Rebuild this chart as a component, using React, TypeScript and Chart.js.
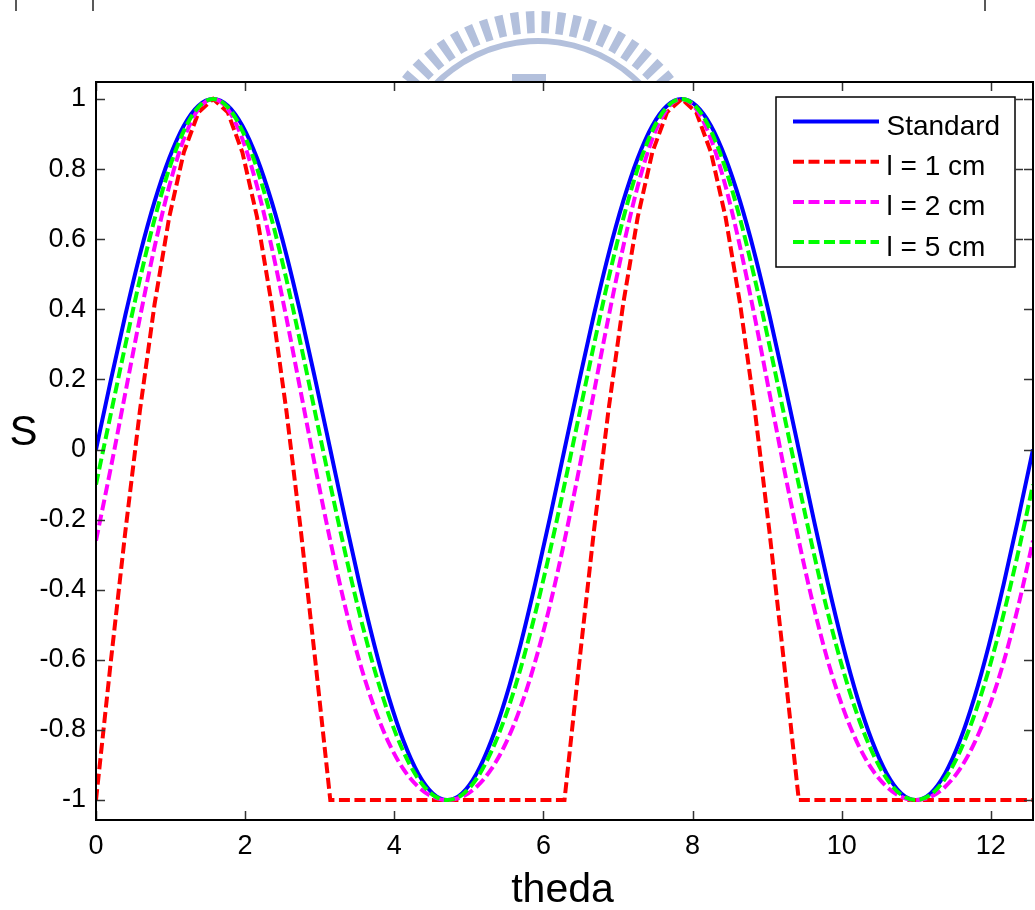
import React, { useEffect, useRef } from 'react';
import { Chart, registerables } from 'chart.js';

Chart.register(...registerables);

// theta samples (rad), step pi/16 from 0 to 4*pi
const theta = [
  0, 0.196, 0.393, 0.589, 0.785, 0.982, 1.178, 1.374, 1.571, 1.767, 1.963, 2.16, 2.356, 2.553, 2.749, 2.945,
  3.142, 3.338, 3.534, 3.731, 3.927, 4.123, 4.32, 4.516, 4.712, 4.909, 5.105, 5.301, 5.498, 5.694, 5.89, 6.087,
  6.283, 6.48, 6.676, 6.872, 7.069, 7.265, 7.461, 7.658, 7.854, 8.05, 8.247, 8.443, 8.639, 8.836, 9.032, 9.228,
  9.425, 9.621, 9.817, 10.014, 10.21, 10.407, 10.603, 10.799, 10.996, 11.192, 11.388, 11.585, 11.781, 11.977, 12.174, 12.37,
  12.566,
];

const standard = [
  0, 0.195, 0.383, 0.556, 0.707, 0.831, 0.924, 0.981, 1, 0.981, 0.924, 0.831, 0.707, 0.556, 0.383, 0.195,
  0, -0.195, -0.383, -0.556, -0.707, -0.831, -0.924, -0.981, -1, -0.981, -0.924, -0.831, -0.707, -0.556, -0.383, -0.195,
  0, 0.195, 0.383, 0.556, 0.707, 0.831, 0.924, 0.981, 1, 0.981, 0.924, 0.831, 0.707, 0.556, 0.383, 0.195,
  0, -0.195, -0.383, -0.556, -0.707, -0.831, -0.924, -0.981, -1, -0.981, -0.924, -0.831, -0.707, -0.556, -0.383, -0.195,
  0,
];

const l1cm = [
  -1, -0.61, -0.235, 0.111, 0.414, 0.663, 0.848, 0.962, 1, 0.962, 0.848, 0.663, 0.414, 0.111, -0.235, -0.61,
  -1, -1, -1, -1, -1, -1, -1, -1, -1, -1, -1, -1, -1, -1, -1, -1,
  -1, -0.61, -0.235, 0.111, 0.414, 0.663, 0.848, 0.962, 1, 0.962, 0.848, 0.663, 0.414, 0.111, -0.235, -0.61,
  -1, -1, -1, -1, -1, -1, -1, -1, -1, -1, -1, -1, -1, -1, -1, -1,
  -1,
];

const l2cm = [
  -0.26, -0.055, 0.161, 0.376, 0.577, 0.751, 0.886, 0.971, 1, 0.971, 0.886, 0.751, 0.577, 0.376, 0.161, -0.055,
  -0.26, -0.445, -0.605, -0.735, -0.837, -0.912, -0.962, -0.991, -1, -0.991, -0.962, -0.912, -0.837, -0.735, -0.605, -0.445,
  -0.26, -0.055, 0.161, 0.376, 0.577, 0.751, 0.886, 0.971, 1, 0.971, 0.886, 0.751, 0.577, 0.376, 0.161, -0.055,
  -0.26, -0.445, -0.605, -0.735, -0.837, -0.912, -0.962, -0.991, -1, -0.991, -0.962, -0.912, -0.837, -0.735, -0.605, -0.445,
  -0.26,
];

const l5cm = [
  -0.1, 0.099, 0.297, 0.486, 0.657, 0.801, 0.909, 0.977, 1, 0.977, 0.909, 0.801, 0.657, 0.486, 0.297, 0.099,
  -0.1, -0.291, -0.468, -0.625, -0.757, -0.862, -0.939, -0.985, -1, -0.985, -0.939, -0.862, -0.757, -0.625, -0.468, -0.291,
  -0.1, 0.099, 0.297, 0.486, 0.657, 0.801, 0.909, 0.977, 1, 0.977, 0.909, 0.801, 0.657, 0.486, 0.297, 0.099,
  -0.1, -0.291, -0.468, -0.625, -0.757, -0.862, -0.939, -0.985, -1, -0.985, -0.939, -0.862, -0.757, -0.625, -0.468, -0.291,
  -0.1,
];

const seriesLabels = ['Standard', 'l = 1 cm', 'l = 2 cm', 'l = 5 cm'];
const xTicks = [0, 2, 4, 6, 8, 10, 12];
const xTickLabels = ['0', '2', '4', '6', '8', '10', '12'];
const yTicks = [-1, -0.8, -0.6, -0.4, -0.2, 0, 0.2, 0.4, 0.6, 0.8, 1];
const yTickLabels = ['-1', '-0.8', '-0.6', '-0.4', '-0.2', '0', '0.2', '0.4', '0.6', '0.8', '1'];
const xTitle = 'theda';
const yTitle = 'S';
const xMin = 0;
const xMax = 12.566;
const yMin = -1.057;
const yMax = 1.0485;

const FONT = '"Liberation Sans", Arial, Helvetica, sans-serif';

const decorPlugin = {
  id: 'decor',
  beforeDraw(chart: any) {
    const ctx = chart.ctx;
    const top = chart.chartArea.top;
    ctx.save();
    ctx.fillStyle = '#ffffff';
    ctx.fillRect(0, 0, chart.width, chart.height);
    // faint watermark logo above the axes
    ctx.beginPath();
    ctx.rect(0, 0, chart.width, top - 1);
    ctx.clip();
    ctx.fillStyle = '#b3c0dc';
    const cx = 538, cy = 184;
    const a0 = (-143 * Math.PI) / 180, a1 = (-37 * Math.PI) / 180;
    const n = 20;
    for (let i = 0; i < n; i++) {
      const a = a0 + ((a1 - a0) * (i + 0.5)) / n;
      const hw = ((a1 - a0) / n) * 0.27;
      ctx.beginPath();
      ctx.arc(cx, cy, 173, a - hw, a + hw);
      ctx.arc(cx, cy, 151, a + hw, a - hw, true);
      ctx.closePath();
      ctx.fill();
    }
    ctx.beginPath();
    ctx.arc(cx, cy, 146, a0, a1);
    ctx.arc(cx, cy, 140, a1, a0, true);
    ctx.closePath();
    ctx.fill();
    ctx.fillRect(cx - 26, 74, 34, 8);
    ctx.restore();
    // remnants of the frame above
    ctx.save();
    ctx.strokeStyle = '#222';
    ctx.lineWidth = 1.5;
    [16, 93, 985].forEach((x) => {
      ctx.beginPath();
      ctx.moveTo(x, 0);
      ctx.lineTo(x, 11);
      ctx.stroke();
    });
    ctx.restore();
  },
  afterDraw(chart: any) {
    const ctx = chart.ctx;
    const { left, right, top, bottom } = chart.chartArea;
    const xs = chart.scales.x;
    const ys = chart.scales.y;
    ctx.save();
    // inward ticks on all four sides
    ctx.strokeStyle = '#333';
    ctx.lineWidth = 1.5;
    const tl = 9;
    xTicks.forEach((v) => {
      const px = Math.round(xs.getPixelForValue(v)) + 0.5;
      ctx.beginPath();
      ctx.moveTo(px, bottom);
      ctx.lineTo(px, bottom - tl);
      ctx.moveTo(px, top);
      ctx.lineTo(px, top + tl);
      ctx.stroke();
    });
    yTicks.forEach((v) => {
      const py = Math.round(ys.getPixelForValue(v)) + 0.5;
      ctx.beginPath();
      ctx.moveTo(left, py);
      ctx.lineTo(left + tl, py);
      ctx.moveTo(right, py);
      ctx.lineTo(right - tl, py);
      ctx.stroke();
    });
    // frame
    ctx.strokeStyle = '#000';
    ctx.lineWidth = 2;
    ctx.strokeRect(left, top, right - left, bottom - top);

    // legend
    const bx = 776, by = 97, bw = 239, bh = 170;
    ctx.fillStyle = '#fff';
    ctx.fillRect(bx, by, bw, bh);
    ctx.strokeStyle = '#000';
    ctx.lineWidth = 1.5;
    ctx.strokeRect(bx, by, bw, bh);
    // small marks at the legend's right edge
    ctx.strokeStyle = '#333';
    ctx.lineWidth = 1.5;
    yTicks.forEach((v) => {
      const py = Math.round(ys.getPixelForValue(v)) + 0.5;
      if (py >= by && py <= by + bh) {
        ctx.beginPath();
        ctx.moveTo(bx + bw, py);
        ctx.lineTo(bx + bw + 8, py);
        ctx.stroke();
      }
    });
    ctx.font = `28px ${FONT}`;
    ctx.textAlign = 'left';
    ctx.textBaseline = 'alphabetic';
    chart.data.datasets.forEach((ds: any, i: number) => {
      const ly = 121.5 + i * 40.2;
      ctx.save();
      ctx.strokeStyle = ds.borderColor;
      ctx.lineWidth = ds.borderWidth;
      ctx.setLineDash(ds.borderDash || []);
      ctx.beginPath();
      ctx.moveTo(793, ly);
      ctx.lineTo(879, ly);
      ctx.stroke();
      ctx.restore();
      ctx.fillStyle = '#000';
      ctx.fillText(ds.label, 886.5, ly + 13.5);
    });

    // axis titles
    ctx.fillStyle = '#000';
    ctx.font = `41px ${FONT}`;
    ctx.textAlign = 'center';
    ctx.textBaseline = 'alphabetic';
    ctx.fillText(xTitle, (left + right) / 2 - 2, 902);
    ctx.font = `42px ${FONT}`;
    ctx.fillText(yTitle, 23.5, 445);
    ctx.restore();
  },
};

export default function App() {
  const ref = useRef<HTMLCanvasElement | null>(null);
  useEffect(() => {
    if (!ref.current) return;
    const mk = (ys: number[]) => theta.map((x, i) => ({ x, y: ys[i] }));
    const chart = new Chart(ref.current, {
      type: 'line',
      data: {
        datasets: [
          {
            label: seriesLabels[0],
            data: mk(standard),
            borderColor: '#0000ff',
            borderWidth: 4,
            cubicInterpolationMode: 'monotone',
            order: 3,
          },
          {
            label: seriesLabels[1],
            data: mk(l1cm),
            borderColor: '#ff0000',
            borderWidth: 4,
            borderDash: [11, 4.5],
            tension: 0,
            order: 2,
          },
          {
            label: seriesLabels[2],
            data: mk(l2cm),
            borderColor: '#ff00ff',
            borderWidth: 4,
            borderDash: [11, 4.5],
            cubicInterpolationMode: 'monotone',
            order: 1,
          },
          {
            label: seriesLabels[3],
            data: mk(l5cm),
            borderColor: '#00ff00',
            borderWidth: 4,
            borderDash: [11, 4.5],
            cubicInterpolationMode: 'monotone',
            order: 0,
          },
        ],
      } as any,
      options: {
        animation: false,
        responsive: false,
        events: [],
        layout: { padding: { top: 82, right: 2, left: 0, bottom: 0 } },
        elements: { point: { radius: 0 } },
        plugins: {
          legend: { display: false },
          tooltip: { enabled: false },
          title: { display: false },
        },
        scales: {
          x: {
            type: 'linear',
            min: xMin,
            max: xMax,
            grid: { display: false, drawTicks: false },
            border: { display: false },
            ticks: {
              padding: 10,
              color: '#000',
              font: { size: 27, family: FONT },
              maxRotation: 0,
              autoSkip: false,
              callback: (_v: any, i: number) => xTickLabels[i],
            },
            afterBuildTicks: (s: any) => {
              s.ticks = xTicks.map((v) => ({ value: v }));
            },
            afterFit: (s: any) => {
              s.height = 90;
            },
          },
          y: {
            type: 'linear',
            min: yMin,
            max: yMax,
            grid: { display: false, drawTicks: false },
            border: { display: false },
            ticks: {
              padding: 10,
              color: '#000',
              font: { size: 27, family: FONT },
              autoSkip: false,
              callback: (_v: any, i: number) => yTickLabels[i],
            },
            afterBuildTicks: (s: any) => {
              s.ticks = yTicks.map((v) => ({ value: v }));
            },
            afterFit: (s: any) => {
              s.width = 96;
            },
          },
        },
      } as any,
      plugins: [decorPlugin],
    });
    return () => chart.destroy();
  }, []);
  return (
    <div style={{ position: 'absolute', left: 0, top: 0, width: 1035, height: 910, background: '#fff' }}>
      <canvas ref={ref} width={1035} height={910} style={{ display: 'block', width: 1035, height: 910 }} />
    </div>
  );
}
